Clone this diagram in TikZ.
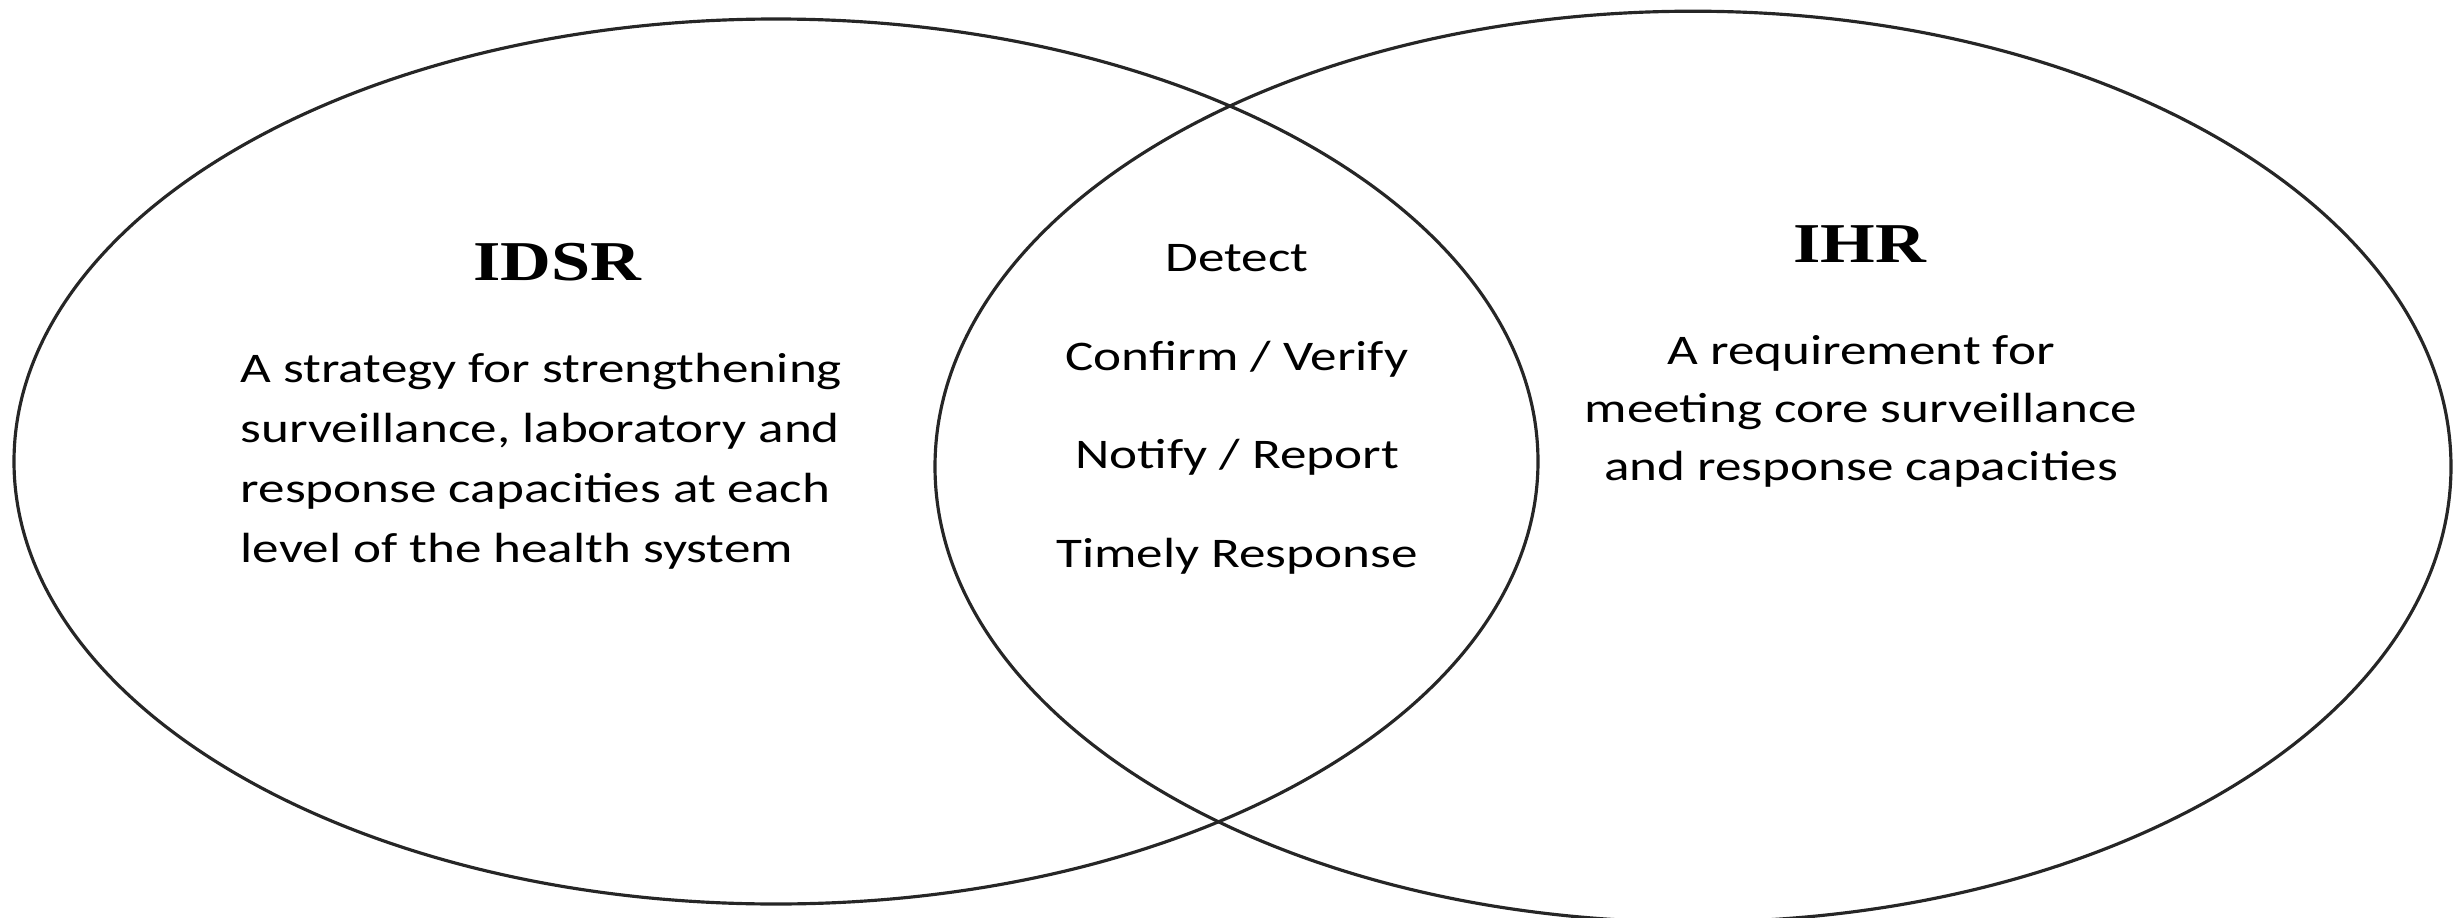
\documentclass[tikz,border=0pt]{standalone}
\usepackage{fontspec}
\usepackage{tikz}
\usetikzlibrary{shapes.geometric, positioning}
\newfontfamily\bodyfont[FakeStretch=1.26]{Carlito}
\newfontfamily\titlefont[FakeStretch=1.25]{Liberation Serif}
\tikzstyle{setbox} = [ellipse, draw=black!85, line width=0.9pt, inner sep=0pt]
\tikzstyle{title} = [font=\titlefont\bfseries\fontsize{16}{19}\selectfont, anchor=base, inner sep=0pt]
\tikzstyle{desc} = [font=\bodyfont\fontsize{12}{17}\selectfont, anchor=base, inner sep=0pt]

\begin{document}
\begin{tikzpicture}
    \useasboundingbox (0,0) rectangle (24.53,9.17);
    % Sets
    \node (idsr) at (7.76,4.555) [setbox, minimum width=15.24cm, minimum height=8.85cm] {};
    \node (ihr) at (16.93,4.504) [setbox, minimum width=15.16cm, minimum height=9.108cm] {};

    % Titles
    \node (idsrtitle) at (5.57,6.37) [title] {IDSR};
    \node (ihrtitle) at (18.60,6.55) [title] {IHR};

    % Descriptions (anchored at the baseline of the last line)
    \node (idsrtext) at (2.40,3.55) [desc, anchor=base west, align=left] {A strategy for strengthening\\surveillance, laboratory and\\response capacities at each\\level of the health system};
    \node (ihrtext) at (18.61,4.37) [desc, align=center, font=\bodyfont\fontsize{12}{16.4}\selectfont] {A requirement for\\meeting core surveillance\\and response capacities};

    % Overlap
    \node (common) at (12.37,3.50) [desc, align=center, font=\bodyfont\fontsize{12}{28}\selectfont] {Detect\\Confirm / Verify\\Notify / Report\\Timely Response};
\end{tikzpicture}
\end{document}
